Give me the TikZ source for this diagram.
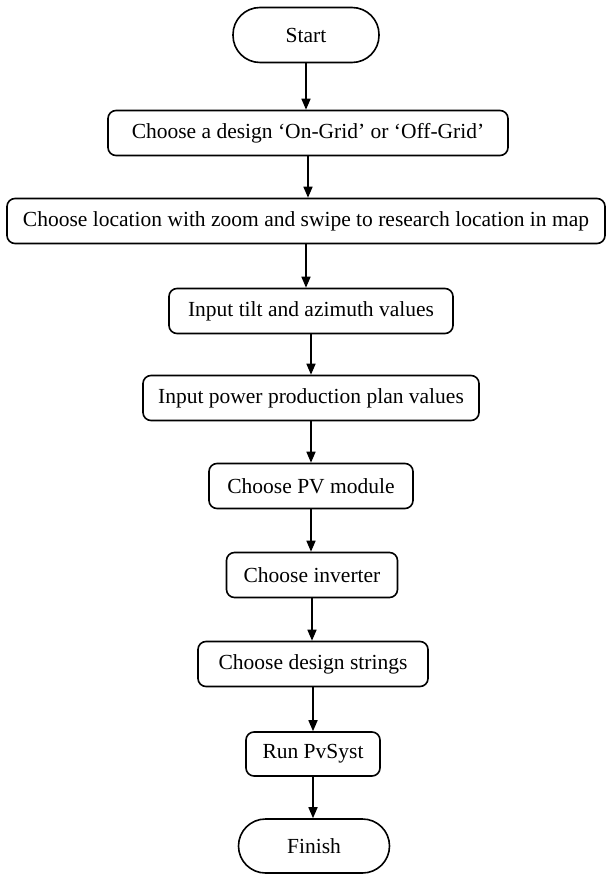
\documentclass[tikz,border=0pt]{standalone}
\usepackage{fontspec}
\setmainfont{Liberation Serif}
\usetikzlibrary{arrows.meta}
\begin{document}
\begin{tikzpicture}[x=1pt,y=-1pt,
  every node/.style={font=\fontsize{21.5}{26}\selectfont},
  stepbox/.style={draw, line width=1.6pt, rounded corners=8pt, minimum height=45pt, inner sep=0pt},
  term/.style={draw, line width=1.6pt, rounded corners=27pt, minimum height=55pt, inner sep=0pt},
  flow/.style={draw, line width=1.6pt, -{Triangle[length=11pt,width=9pt]}}]
\useasboundingbox (0,0) rectangle (606,874);
\node[term, minimum width=146pt] (s) at (306,35) {Start};
\node[stepbox, minimum width=400pt] (b2) at (308,133) {Choose a design ‘On-Grid’ or ‘Off-Grid’};
\node[stepbox, minimum width=598pt] (b3) at (306,221) {Choose location with zoom and swipe to research location in map};
\node[stepbox, minimum width=284pt] (b4) at (311,311) {Input tilt and azimuth values};
\node[stepbox, minimum width=336pt] (b5) at (311,398) {Input power production plan values};
\node[stepbox, minimum width=204pt] (b6) at (311,486) {Choose PV module};
\node[stepbox, minimum width=171pt] (b7) at (312,575) {Choose inverter};
\node[stepbox, minimum width=230pt] (b8) at (313,664) {Choose design strings};
\node[stepbox, minimum width=134pt, minimum height=44pt] (b9) at (313,754) {Run PvSyst};
\node[term, minimum width=151pt, minimum height=54pt] (f) at (314,846) {Finish};
\draw[flow] (s.south) -- (s.south |- b2.north);
\draw[flow] (b2.south) -- (b2.south |- b3.north);
\draw[flow] (b3.south) -- (b3.south |- b4.north);
\draw[flow] (b4.south) -- (b4.south |- b5.north);
\draw[flow] (b5.south) -- (b5.south |- b6.north);
\draw[flow] (b6.south) -- (b6.south |- b7.north);
\draw[flow] (b7.south) -- (b7.south |- b8.north);
\draw[flow] (b8.south) -- (b8.south |- b9.north);
\draw[flow] (b9.south) -- (b9.south |- f.north);
\end{tikzpicture}
\end{document}
